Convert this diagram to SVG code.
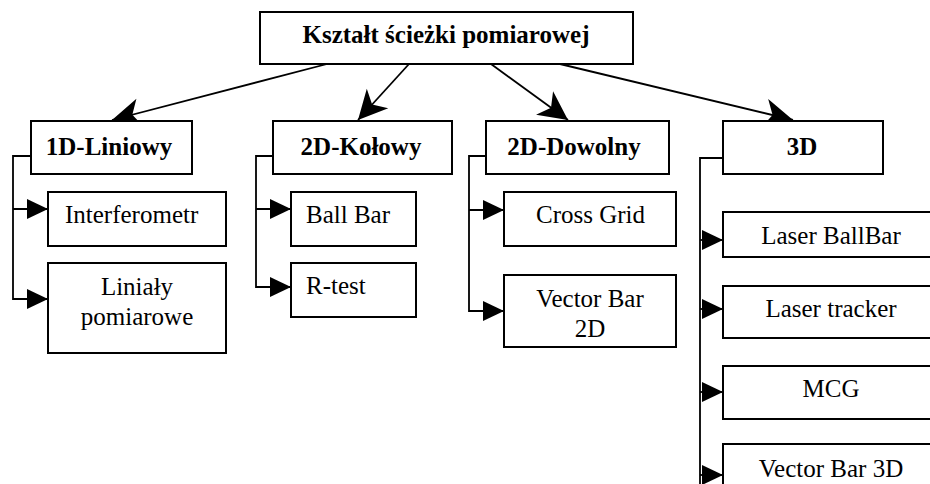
<svg xmlns="http://www.w3.org/2000/svg" width="930" height="484" viewBox="0 0 930 484">
<defs>
<marker id="big" markerUnits="userSpaceOnUse" viewBox="-30 -15 31 30" refX="0" refY="0" markerWidth="31" markerHeight="30" orient="auto">
<path d="M0,0 L-29,-14.5 L-21,0 L-29,14.5 Z" fill="#000"/>
</marker>
<marker id="tri" markerUnits="userSpaceOnUse" viewBox="-22 -11 23 22" refX="0" refY="0" markerWidth="23" markerHeight="22" orient="auto">
<path d="M0,0 L-21,-10 L-21,10 Z" fill="#000"/>
</marker>
<style>
rect{fill:#fff;stroke:#000;stroke-width:2}
.c path,.c line{fill:none;stroke:#000;stroke-width:1.8}
.a{marker-end:url(#big)}
.t{marker-end:url(#tri)}
text{font-family:"Liberation Serif","Times New Roman",serif;font-size:25px;fill:#000}
.b{font-weight:bold}
.m{text-anchor:middle}
</style>
</defs>
<g id="connectors" class="c">
<line class="a" x1="327" y1="64" x2="112" y2="120"/>
<line class="a" x1="409" y1="64" x2="358" y2="120"/>
<line class="a" x1="491" y1="64" x2="568" y2="120"/>
<line class="a" x1="560" y1="64" x2="793" y2="120"/>
<path class="t" d="M31,156 H13 V299 H48"/>
<path class="t" d="M13,209 H48"/>
<path class="t" d="M273,156 H256 V287 H291"/>
<path class="t" d="M256,209 H291"/>
<path class="t" d="M486,156 H469 V311 H504"/>
<path class="t" d="M469,210 H504"/>
<path d="M723,158 H700 V484"/>
<path class="t" d="M700,240 H723"/>
<path class="t" d="M700,309 H723"/>
<path class="t" d="M700,392 H723"/>
<path class="t" d="M700,475 H723"/>
</g>
<g id="root"><rect x="260" y="12" width="373" height="52"/><text class="b m" x="446" y="43">Kształt ścieżki pomiarowej</text></g>
<g id="n1d"><rect x="31" y="121" width="161" height="53"/><text class="b m" x="109" y="155">1D-Liniowy</text></g>
<g id="n2dk"><rect x="273" y="121" width="179" height="53"/><text class="b m" x="361" y="155">2D-Kołowy</text></g>
<g id="n2dd"><rect x="486" y="121" width="183" height="53"/><text class="b m" x="574" y="155">2D-Dowolny</text></g>
<g id="n3d"><rect x="723" y="121" width="160" height="53"/><text class="b m" x="802" y="155">3D</text></g>
<g id="interferometr"><rect x="48" y="192" width="178" height="54"/><text x="65" y="223">Interferometr</text></g>
<g id="linialy"><rect x="48" y="263" width="178" height="90"/><text class="m" x="137" y="295">Liniały</text><text class="m" x="137" y="325">pomiarowe</text></g>
<g id="ballbar"><rect x="291" y="192" width="125" height="54"/><text x="306" y="223">Ball Bar</text></g>
<g id="rtest"><rect x="291" y="263" width="125" height="54"/><text x="306" y="294">R-test</text></g>
<g id="crossgrid"><rect x="504" y="192" width="172" height="54"/><text x="536" y="223">Cross Grid</text></g>
<g id="vectorbar2d"><rect x="504" y="275" width="172" height="72"/><text class="m" x="590" y="307">Vector Bar</text><text class="m" x="590" y="337">2D</text></g>
<g id="laserballbar"><rect x="723" y="212" width="220" height="45"/><text class="m" x="831" y="244">Laser BallBar</text></g>
<g id="lasertracker"><rect x="723" y="286" width="220" height="52"/><text class="m" x="831" y="317">Laser tracker</text></g>
<g id="mcg"><rect x="723" y="366" width="220" height="53"/><text class="m" x="831" y="397">MCG</text></g>
<g id="vectorbar3d"><rect x="723" y="444" width="220" height="60"/><text class="m" x="831" y="477">Vector Bar 3D</text></g>
</svg>
